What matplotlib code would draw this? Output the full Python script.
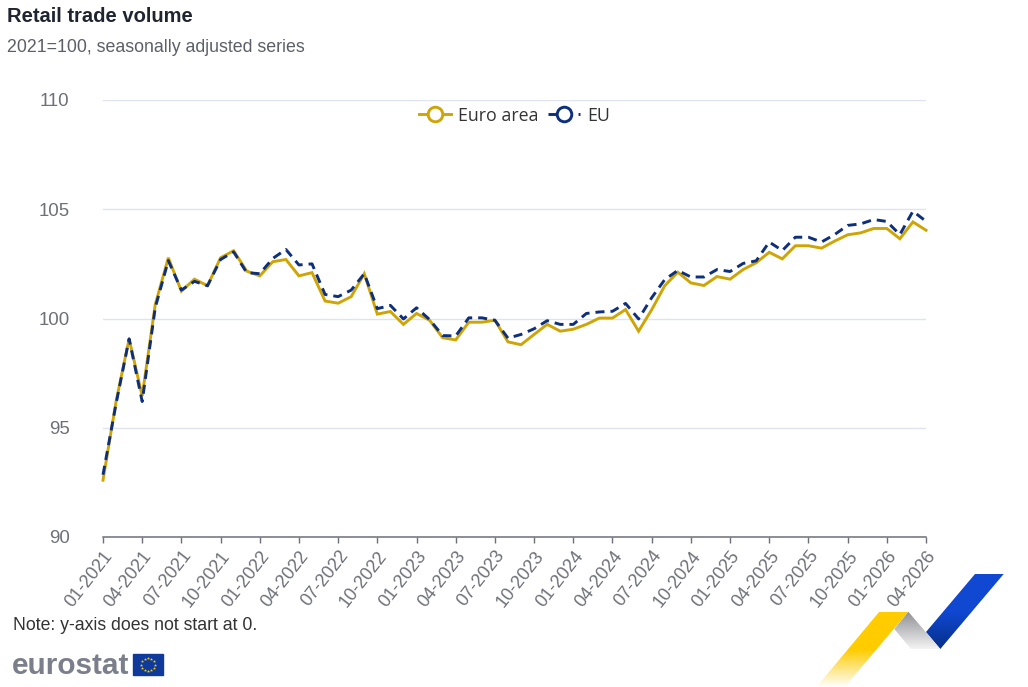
import matplotlib
matplotlib.use("Agg")
import matplotlib.pyplot as plt
import numpy as np
from matplotlib.colors import LinearSegmentedColormap
from matplotlib.patches import Polygon, Rectangle

plt.rcParams["font.family"] = ["Liberation Sans", "DejaVu Sans"]

W, H = 1028, 687

# monthly index values, 01-2021 to 04-2026
months = [f"{m:02d}-{y}" for y in range(2021, 2027) for m in range(1, 13)][:64]
euro_area = [
    92.6, 96.2, 99.07, 96.45, 100.64, 102.78, 101.25, 101.8, 101.5, 102.78,
    103.1, 102.17, 101.95, 102.6, 102.7, 101.95, 102.1, 100.8, 100.7, 101.0,
    102.05, 100.2, 100.32, 99.73, 100.23, 99.92, 99.12, 99.02, 99.83, 99.83,
    99.92, 98.93, 98.8, 99.27, 99.73, 99.42, 99.51, 99.73, 100.02, 100.02,
    100.41, 99.42, 100.4, 101.5, 102.12, 101.63, 101.51, 101.92, 101.8, 102.24,
    102.55, 103.03, 102.73, 103.33, 103.33, 103.22, 103.54, 103.83, 103.92, 104.12,
    104.12, 103.65, 104.42, 104.04,
]
eu = [
    92.85, 96.1, 99.07, 96.2, 100.5, 102.65, 101.3, 101.7, 101.5, 102.7,
    103.05, 102.1, 102.05, 102.75, 103.16, 102.45, 102.5, 101.1, 101.0, 101.3,
    102.05, 100.45, 100.6, 99.98, 100.49, 99.95, 99.22, 99.2, 100.03, 100.03,
    99.92, 99.1, 99.27, 99.53, 99.9, 99.73, 99.73, 100.23, 100.3, 100.33,
    100.69, 99.98, 100.95, 101.78, 102.2, 101.9, 101.9, 102.24, 102.15, 102.52,
    102.64, 103.5, 103.11, 103.72, 103.72, 103.5, 103.84, 104.26, 104.33, 104.53,
    104.44, 103.84, 104.91, 104.45,
]
y_ticks = [90, 95, 100, 105, 110]

GOLD = "#cfa506"
NAVY = "#0e2f7c"
GREY = "#6e7079"
DASH = (3.1, 2.05)

fig = plt.figure(figsize=(W / 100, H / 100), dpi=100, facecolor="white")

# main plot area
ax = fig.add_axes([103 / W, 1 - 537 / H, 823 / W, 437 / H])
x = np.arange(len(months))
ax.plot(x, euro_area, color=GOLD, lw=2.1, solid_joinstyle="miter", zorder=3, clip_on=False)
ax.plot(x, eu, color=NAVY, lw=2.1, dashes=DASH, zorder=4, clip_on=False)

ax.set_xlim(0, len(months) - 1)
ax.set_ylim(90, 110)
ax.set_yticks(y_ticks)
ax.set_xticks(x[::3])
ax.set_xticklabels(months[::3], rotation=52, ha="right", va="top", rotation_mode="anchor")
ax.tick_params(axis="y", length=0, pad=24, labelsize=13.4, labelcolor=GREY)
ax.tick_params(axis="x", length=4.5, width=1, color=GREY, pad=3, labelsize=13, labelcolor=GREY)
plt.setp(ax.get_yticklabels(), va="center_baseline")
ax.grid(axis="y", color="#e0e3ee", lw=1)
ax.set_axisbelow(True)
for side in ["top", "left", "right"]:
    ax.spines[side].set_visible(False)
ax.spines["bottom"].set_color(GREY)
ax.spines["bottom"].set_linewidth(1.1)

# legend entries with open circle markers
h1 = plt.Line2D([], [], color=GOLD, lw=2.1, marker="o", ms=10.5, mfc="white", mew=2.1, label="Euro area")
h2 = plt.Line2D([], [], color=NAVY, lw=2.1, ls=(0, DASH), marker="o", ms=10.5, mfc="white", mew=2.1, label="EU")
ax.legend(handles=[h1, h2], ncol=2, loc="center", bbox_to_anchor=(0.5, 0.9645), frameon=False,
          labelcolor="#333333", handlelength=1.8, handletextpad=0.4,
          columnspacing=0.55, prop={"family": "Open Sans", "size": 12.8})

# titles and note in figure pixels
fig.text(7 / W, 1 - 17 / H, "Retail trade volume", fontsize=14.5, fontweight="bold", color="#1f2430", va="center")
fig.text(7 / W, 1 - 47.5 / H, "2021=100, seasonally adjusted series", fontsize=12.75, color="#5c5f68", va="center")
fig.text(13 / W, 1 - 626 / H, "Note: y-axis does not start at 0.", fontsize=12.7, color="#333333", va="center")
fig.text(12 / W, 1 - 666.5 / H, "eurostat", fontsize=21.4, fontweight="bold", color="#7b7f8b", va="center")

# overlay in pixel coordinates for the logo and ribbon
over = fig.add_axes([0, 0, 1, 1], facecolor="none")
over.set_xlim(0, W)
over.set_ylim(H, 0)
over.axis("off")

# EU flag
over.add_patch(Rectangle((133, 654), 30, 21, color="#0f3a9c", zorder=5))
for a in np.arange(12) * np.pi / 6:
    over.plot(148 + 6.8 * np.cos(a), 664.5 + 6.8 * np.sin(a), "*", color="#f5d000", ms=2.4, mew=0, zorder=6)


def ribbon(points, colors, extent):
    cmap = LinearSegmentedColormap.from_list("ribbon", colors)
    grad = np.linspace(0, 1, 256).reshape(-1, 1)
    im = over.imshow(grad, cmap=cmap, extent=extent, aspect="auto", zorder=5, interpolation="bilinear")
    im.set_clip_path(Polygon(points, closed=True, transform=over.transData))


ribbon([(975, 574), (1003.7, 574), (940.3, 649), (926, 632)], ["#1048d2", "#1048d2", "#062f88"], (926, 1004, 649, 574))
ribbon([(908.3, 611.7), (940.3, 649), (911, 649), (894.3, 629)], ["#8d8e93", "#f4f4f4"], (894, 941, 649, 611.7))
ribbon([(879.3, 611.7), (908.3, 611.7), (845, 686.7), (816.7, 686.7)], ["#ffcc00", "#ffcc00", "#ffffff"], (816, 909, 686.7, 611.7))
over.set_xlim(0, W)
over.set_ylim(H, 0)

fig.savefig("out.png", dpi=100)
